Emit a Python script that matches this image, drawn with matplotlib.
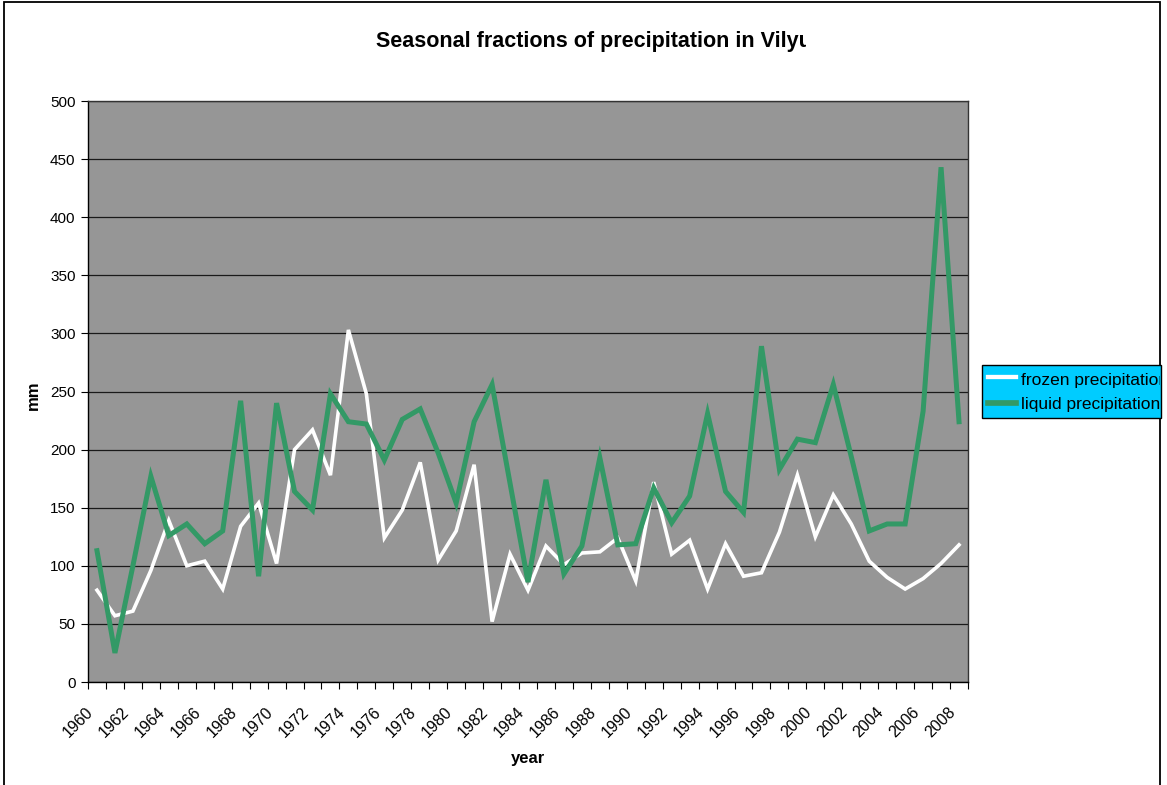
import matplotlib.pyplot as plt
import matplotlib.transforms as mtransforms
import numpy as np
from matplotlib.patches import Rectangle
from matplotlib.lines import Line2D

plt.rcParams['font.family'] = ['Liberation Sans', 'DejaVu Sans']

years = list(range(1960, 2009))

# frozen precipitation, mm
frozen = [79, 57, 61, 96, 139, 100, 104, 80, 134, 154,
          102, 200, 217, 178, 303, 248, 124, 148, 189, 105,
          130, 187, 52, 110, 79, 117, 101, 111, 112, 124,
          87, 172, 110, 122, 80, 119, 91, 94, 129, 178,
          125, 161, 136, 104, 90, 80, 89, 102, 118]

# liquid precipitation, mm
liquid = [113, 25, 100, 177, 126, 136, 119, 130, 242, 91,
          240, 164, 148, 248, 224, 222, 191, 226, 235, 197,
          154, 224, 256, 171, 86, 174, 93, 117, 193, 118,
          119, 167, 137, 160, 231, 164, 146, 289, 183, 209,
          206, 256, 194, 130, 136, 136, 233, 443, 224]

series_names = ['frozen precipitation', 'liquid precipitation']
series_colors = ['white', '#339966']
series_widths = [2.6, 3.6]

W, H = 1167, 785
fig = plt.figure(figsize=(W / 100, H / 100), dpi=100)

# outer chart border (Excel chart area)
fig.patches.append(Rectangle((4 / W, -0.01), 1156 / W, 1.0 - 1.5 / H + 0.01,
                             transform=fig.transFigure, fill=False,
                             edgecolor='black', linewidth=1.3))

ax = fig.add_axes([88 / W, 1 - 682 / H, 880 / W, 581 / H])
ax.set_facecolor('#969696')

ax.plot(years, frozen, color=series_colors[0], lw=series_widths[0],
        solid_joinstyle='miter', zorder=3)
ax.plot(years, liquid, color=series_colors[1], lw=series_widths[1],
        solid_joinstyle='miter', zorder=4)

ax.set_xlim(1959.5, 2008.5)
ax.set_ylim(0, 500)
ax.set_yticks(np.arange(0, 501, 50))
ax.yaxis.grid(True, color='#1a1a1a', lw=0.9)
ax.set_axisbelow(True)
ax.tick_params(axis='y', direction='out', length=5, labelsize=11, pad=4)

# tick marks between categories, labels every second year
ax.set_xticks(np.arange(1959.5, 2009.5, 1))
ax.set_xticklabels([])
ax.tick_params(axis='x', which='major', direction='out', length=5)
ax.set_xticks(years[::2], minor=True)
ax.set_xticklabels([str(y) for y in years[::2]], minor=True,
                   rotation=45, ha='right', va='center', rotation_mode='anchor')
ax.tick_params(axis='x', which='minor', length=0, labelsize=11.5, pad=20)
shift = mtransforms.ScaledTranslation(-6 / 100, 0, fig.dpi_scale_trans)
for lab in ax.get_xticklabels(minor=True):
    lab.set_transform(lab.get_transform() + shift)

for side in ['left', 'bottom']:
    ax.spines[side].set_color('black')
    ax.spines[side].set_linewidth(1.0)
for side in ['top', 'right']:
    ax.spines[side].set_color('#333333')
    ax.spines[side].set_linewidth(1.0)

fig.text(528 / W, 1 - 759 / H, 'year', fontsize=12, fontweight='bold',
         ha='center', va='center')
fig.text(33 / W, 1 - 395 / H, 'mm', fontsize=12, fontweight='bold',
         ha='center', va='center', rotation=90)

# title (clipped like in the original)
title_clip = Rectangle((0, 0), 806 / W, 1, transform=fig.transFigure)
t = fig.text(376 / W, 1 - 42 / H, 'Seasonal fractions of precipitation in Vilyu',
             fontsize=15.5, fontweight='bold', ha='left', va='center')
t.set_clip_path(title_clip)

# legend box, text clipped at the right edge
lx0, ly0, lx1, ly1 = 982, 365, 1161, 418
box = Rectangle((lx0 / W, 1 - ly1 / H), (lx1 - lx0) / W, (ly1 - ly0) / H,
                transform=fig.transFigure, facecolor='#00CCFF',
                edgecolor='black', linewidth=1.0)
fig.patches.append(box)
clip = Rectangle((lx0 / W, 1 - ly1 / H), (lx1 - lx0 - 1) / W, (ly1 - ly0) / H,
                 transform=fig.transFigure)
for k, (name, col, lw) in enumerate(zip(series_names, series_colors, series_widths)):
    yl = 1 - (377 + 26 * k) / H
    fig.lines.append(Line2D([988 / W, 1016 / W], [yl, yl], transform=fig.transFigure,
                            color=col, lw=lw + 0.5))
    tt = fig.text(1021 / W, 1 - (380 + 25 * k) / H, name, fontsize=12.5,
                  ha='left', va='center')
    tt.set_clip_path(clip)

fig.savefig('out.png', dpi=100)
